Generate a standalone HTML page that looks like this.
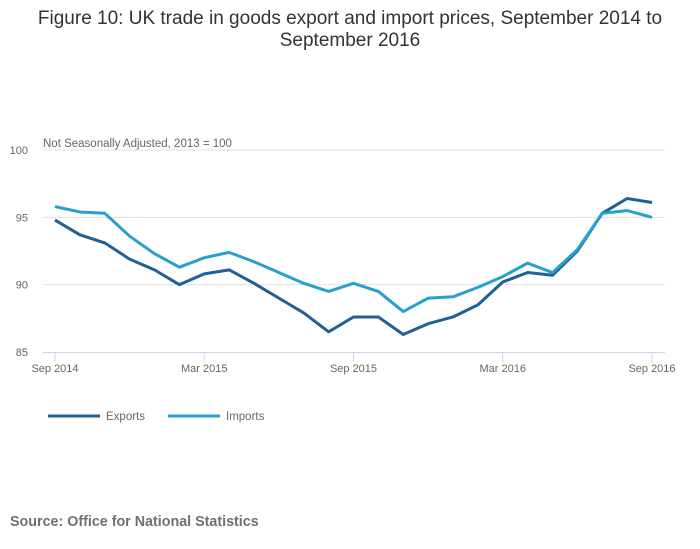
<!DOCTYPE html>
<html><head><meta charset="utf-8"><style>
body{margin:0;background:#fff;font-family:"Liberation Sans",sans-serif;}
svg{display:block}
</style></head><body>
<svg id="chart" width="700" height="549">
<text x="350" y="24" text-anchor="middle" font-size="19" fill="#333">Figure 10: UK trade in goods export and import prices, September 2014 to</text>
<text x="350" y="46" text-anchor="middle" font-size="19" fill="#333">September 2016</text>
<text x="43" y="147" font-size="11.5" fill="#666">Not Seasonally Adjusted, 2013 = 100</text>
<g id="grid"></g><g id="xaxis"></g><g id="series"></g>
<g>
<line x1="48" y1="416" x2="100" y2="416" stroke="#206095" stroke-width="3"/>
<text x="106" y="420" font-size="11.5" fill="#666">Exports</text>
<line x1="168" y1="416" x2="220" y2="416" stroke="#27a0cc" stroke-width="3"/>
<text x="226" y="420" font-size="11.5" fill="#666">Imports</text>
</g>
<text x="10" y="526" font-size="14.3" font-weight="bold" fill="#707070">Source: Office for National Statistics</text>
</svg>
<script>
const yTicks=[85,90,95,100];
const xTickLabels=["Sep 2014","Mar 2015","Sep 2015","Mar 2016","Sep 2016"];
const xTickIdx=[0,6,12,18,24];
const exportsVals=[94.8,93.7,93.1,91.9,91.1,90.0,90.8,91.1,90.1,89.0,87.9,86.5,87.6,87.6,86.3,87.1,87.6,88.5,90.2,90.9,90.7,92.5,95.3,96.4,96.1];
const importsVals=[95.8,95.4,95.3,93.6,92.3,91.3,92.0,92.4,91.7,90.9,90.1,89.5,90.1,89.5,88.0,89.0,89.1,89.8,90.6,91.6,90.9,92.6,95.3,95.5,95.0];
const NS="http://www.w3.org/2000/svg";
const x=i=>55+i*(652-55)/24;
const y=v=>352-(v-85)*(202/15);
function mk(t,a,p){const e=document.createElementNS(NS,t);for(const k in a)e.setAttribute(k,a[k]);p.appendChild(e);return e;}
const grid=document.getElementById('grid');
yTicks.forEach(v=>{
 if(v>85){const l=mk('line',{x1:43,x2:665,y1:y(v),y2:y(v),stroke:'#e0e0e0'},grid);
 
 }
 const t=mk('text',{x:28,y:y(v)+4,'font-size':11,fill:'#666','text-anchor':'end'},grid);t.textContent=v;
 
 
});
const xa=document.getElementById('xaxis');
const ax=mk('line',{x1:43,x2:665,y1:352.5,y2:352.5,stroke:'#ccd6eb'},xa);


xTickIdx.forEach((idx,k)=>{
 const tk=mk('line',{x1:x(idx),x2:x(idx),y1:352,y2:362,stroke:'#ccd6eb'},xa);
 
 
 const t=mk('text',{x:x(idx),y:372,'font-size':11,fill:'#666','text-anchor':'middle'},xa);t.textContent=xTickLabels[k];
 
 
});
const s=document.getElementById('series');
[[exportsVals,'#206095','exports-line'],[importsVals,'#27a0cc','imports-line']].forEach(([vals,c,n])=>{
 const p=mk('polyline',{points:vals.map((v,i)=>x(i)+','+y(v)).join(' '),fill:'none',stroke:c,'stroke-width':3,'stroke-linejoin':'round'},s);
 
 
});
</script>
</body></html>
